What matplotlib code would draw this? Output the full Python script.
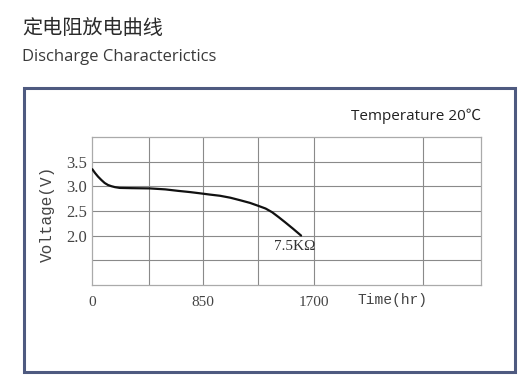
import matplotlib
matplotlib.use("Agg")
import matplotlib.pyplot as plt
from matplotlib.patches import Rectangle

# Data
time_hr = [0, 22, 44, 70, 95, 120, 146, 175, 210, 300, 440, 560, 658, 750, 827, 900, 980,
           1060, 1133, 1210, 1279, 1330, 1380, 1430, 1480, 1540, 1602]
voltage = [3.35, 3.27, 3.20, 3.13, 3.07, 3.03, 3.005, 2.985, 2.97, 2.965, 2.96, 2.94, 2.91,
           2.885, 2.86, 2.835, 2.81, 2.77, 2.72, 2.665, 2.60, 2.55, 2.475, 2.375, 2.27, 2.14, 2.00]
x_grid = [437, 850, 1275, 1700, 2540]
y_grid = [1.5, 2.0, 2.5, 3.0, 3.5]
x_ticks = [0, 850, 1700]
x_ticklabels = ["0", "850", "1700"]
y_ticks = [2.0, 2.5, 3.0, 3.5]
y_ticklabels = ["2.0", "2.5", "3.0", "3.5"]
curve_label = "7.5KΩ"

W, H = 526, 389
fig = plt.figure(figsize=(W / 100, H / 100), dpi=100)
fig.patch.set_facecolor("white")

def fx(px):
    return px / W

def fy(py):
    return 1 - py / H

# Titles
fig.text(fx(22), fy(29), "定电阻放电曲线", family=["Noto Sans CJK SC", "DejaVu Sans"],
         fontsize=14.5, color="#2a2a2a", va="center", ha="left")
fig.text(fx(22), fy(57), "Discharge Characterictics", family=["Open Sans", "DejaVu Sans"],
         fontsize=12, color="#3a3a3a", va="center", ha="left")

# Outer frame
frame = Rectangle((fx(23.5), fy(371.5)), fx(514.5) - fx(23.5), fy(88.3) - fy(371.5),
                  transform=fig.transFigure, fill=False, edgecolor="#4e5a80", linewidth=2.2)
fig.patches.append(frame)

fig.text(fx(481), fy(116), "Temperature 20℃", family=["Open Sans", "Noto Sans CJK SC", "DejaVu Sans"],
         fontsize=11, color="#222222", va="center", ha="right")

# Axes
ax = fig.add_axes([fx(92.3), fy(284.7), fx(481.3) - fx(92.3), fy(137.3) - fy(284.7)])
ax.set_xlim(0, 2985)
ax.set_ylim(1.0, 4.0)
for xg in x_grid:
    ax.axvline(xg, color="#8a8a8a", lw=0.8, zorder=1)
for yg in y_grid:
    ax.axhline(yg, color="#8a8a8a", lw=0.8, zorder=1)
for s in ax.spines.values():
    s.set_color("#aaaaaa")
    s.set_linewidth(0.9)

ax.plot(time_hr, voltage, color="#111111", lw=1.6, zorder=3, solid_capstyle="round",
        solid_joinstyle="round")
ax.text(1550, 1.78, curve_label, family=["Liberation Serif", "DejaVu Serif"], fontsize=11,
        color="#333333", ha="center", va="center")

ax.set_xticks(x_ticks)
ax.set_xticklabels(x_ticklabels, family=["Liberation Serif"], fontsize=11, color="#444444")
ax.set_yticks(y_ticks)
ax.set_yticklabels(y_ticklabels, family=["Liberation Serif"], fontsize=12, color="#444444")
ax.tick_params(axis="x", length=0, pad=8)
ax.tick_params(axis="y", length=0, pad=4)

fig.text(fx(392), fy(300), "Time(hr)", family=["Liberation Mono"], fontsize=10.5,
         color="#444444", ha="center", va="center")
fig.text(fx(47), fy(214), "Voltage(V)", family=["Liberation Mono"], fontsize=11.5,
         color="#444444", ha="center", va="center", rotation=90)

fig.savefig("out.png", dpi=100, facecolor="white")
